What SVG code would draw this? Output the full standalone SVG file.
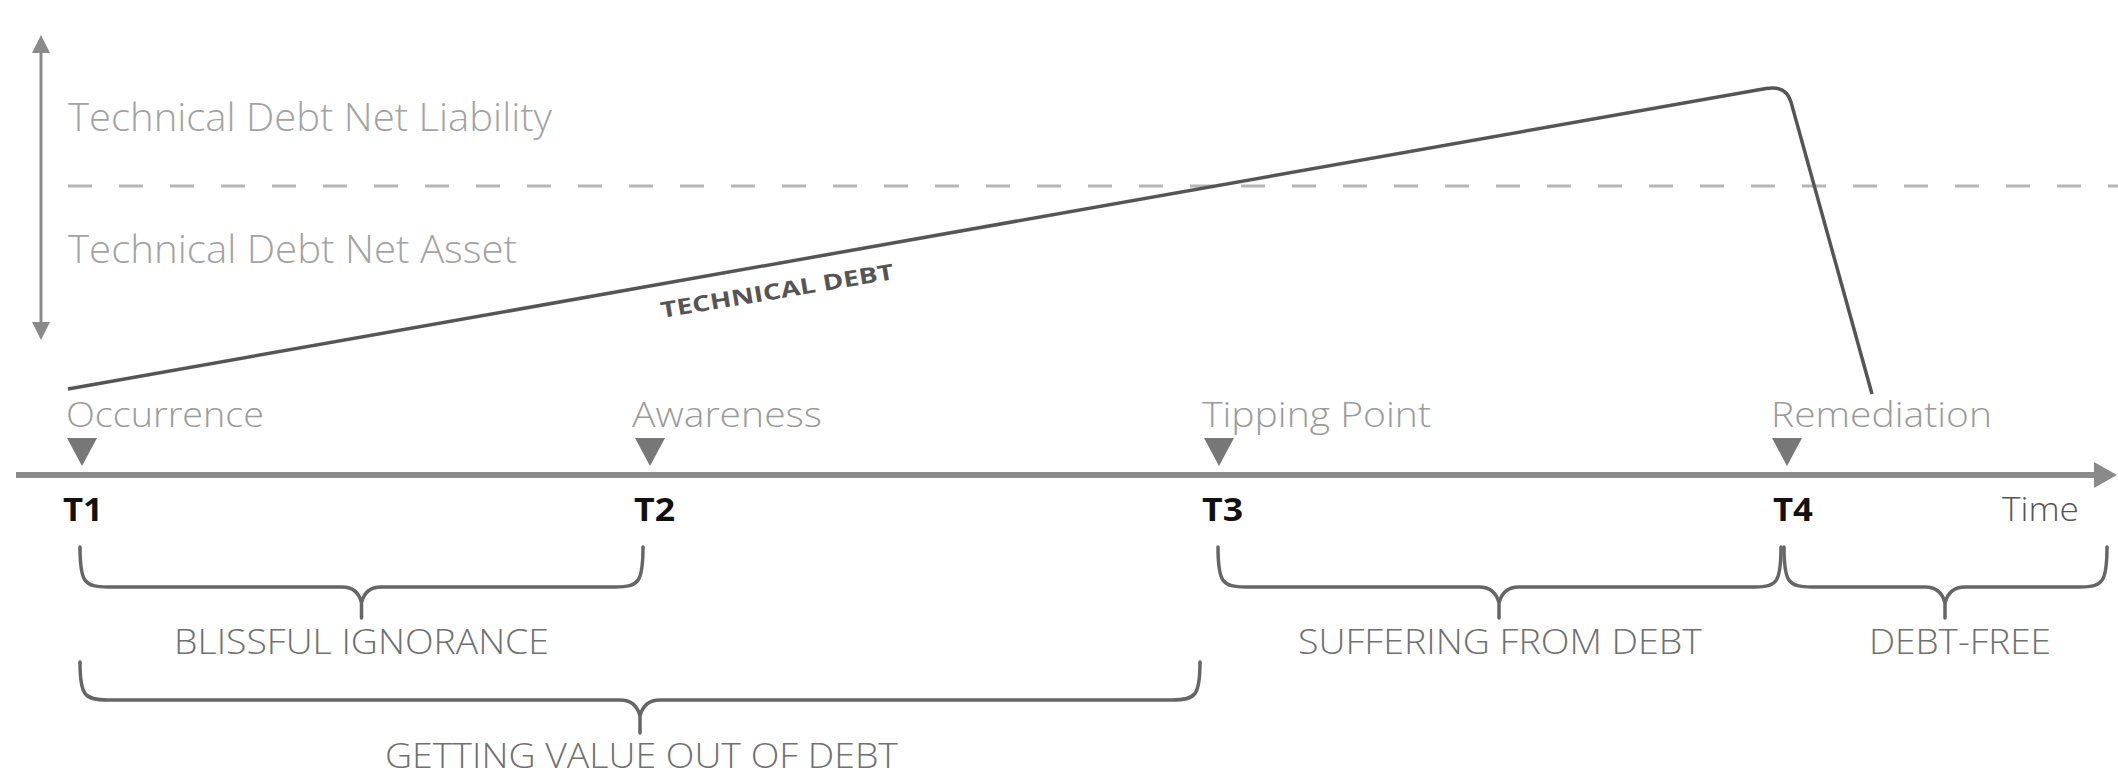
<svg xmlns="http://www.w3.org/2000/svg" width="2118" height="775" viewBox="0 0 2118 775">
<defs>
<style>
.lbl{font-family:"Open Sans","Liberation Sans",sans-serif;font-weight:300;}
.axis-lbl{font-size:38px;fill:#a3a3a3;}
.ev{font-size:35px;fill:#9b9b9b;}
.tk{font-family:"Open Sans","Liberation Sans",sans-serif;font-weight:700;font-size:33px;fill:#111;}
.br{font-size:34px;fill:#707070;}
.brace{fill:none;stroke:#666;stroke-width:3.5;stroke-linejoin:round;stroke-linecap:round;}
.tri{fill:#777;}
</style>
<marker id="ahv" viewBox="0 0 18 18" refX="9" refY="9" markerWidth="18" markerHeight="18" markerUnits="userSpaceOnUse" orient="auto-start-reverse">
<path d="M0,0 L18,9 L0,18 z" fill="#8a8a8a"/>
</marker>
</defs>
<rect width="2118" height="775" fill="#fff"/>

<g id="value-axis">
<line x1="41" y1="44" x2="41" y2="331" stroke="#8a8a8a" stroke-width="3" marker-start="url(#ahv)" marker-end="url(#ahv)"/>
<text class="lbl axis-lbl" x="68" y="131" textLength="484" lengthAdjust="spacingAndGlyphs">Technical Debt Net Liability</text>
<text class="lbl axis-lbl" x="68" y="263" textLength="449" lengthAdjust="spacingAndGlyphs">Technical Debt Net Asset</text>
</g>

<g id="threshold">
<line x1="68" y1="186" x2="2118" y2="186" stroke="#b5b5b5" stroke-width="3" stroke-dasharray="24 27"/>
</g>

<g id="technical-debt">
<path d="M68,389 L1766,88.5 Q1786,85 1791,102 L1872,394" fill="none" stroke="#555" stroke-width="3.5" stroke-linejoin="round"/>
<text x="662" y="318" transform="rotate(-9.5 662 318)" font-family="'Open Sans','Liberation Sans',sans-serif" font-weight="700" font-size="22" fill="#555" textLength="236" lengthAdjust="spacingAndGlyphs">TECHNICAL DEBT</text>
</g>

<g id="connectors">
<line x1="16" y1="475" x2="2096" y2="475" stroke="#8a8a8a" stroke-width="6"/>
<path d="M2094,462 L2117,475 L2094,488 z" fill="#8a8a8a"/>
<path class="brace" d="M80,547 C80,582 84,587 108,587 L342,587 Q358,587 361.5,603 L361.5,618 L361.5,603 Q365,587 381,587 L615,587 C639,587 643,582 643,547"/>
<path class="brace" d="M80,662 C80,695 84,700 108,700 L620,700 Q636,700 640,716 L640,733 L640,716 Q644,700 660,700 L1172,700 C1196,700 1200,695 1200,662"/>
<path class="brace" d="M1218,547 C1218,582 1222,587 1246,587 L1479,587 Q1495,587 1499,603 L1499,618 L1499,603 Q1503,587 1519,587 L1755,587 C1777,587 1781,582 1781,547"/>
<path class="brace" d="M1784,547 C1784,582 1788,587 1812,587 L1925,587 Q1941,587 1945,603 L1945,618 L1945,603 Q1949,587 1965,587 L2080,587 C2103,587 2107,582 2107,547"/>
</g>

<g id="t1">
<text class="lbl ev" x="66" y="427" textLength="198" lengthAdjust="spacingAndGlyphs">Occurrence</text>
<path class="tri" d="M67,438 L97,438 L82,466 z"/>
<text class="tk" x="63" y="521" textLength="40" lengthAdjust="spacingAndGlyphs">T1</text>
</g>
<g id="t2">
<text class="lbl ev" x="632" y="427" textLength="190" lengthAdjust="spacingAndGlyphs">Awareness</text>
<path class="tri" d="M635,438 L665,438 L650,466 z"/>
<text class="tk" x="634" y="521" textLength="41" lengthAdjust="spacingAndGlyphs">T2</text>
</g>
<g id="t3">
<text class="lbl ev" x="1202" y="427" textLength="229" lengthAdjust="spacingAndGlyphs">Tipping Point</text>
<path class="tri" d="M1204,438 L1234,438 L1219,466 z"/>
<text class="tk" x="1202" y="521" textLength="41" lengthAdjust="spacingAndGlyphs">T3</text>
</g>
<g id="t4">
<text class="lbl ev" x="1771" y="427" textLength="221" lengthAdjust="spacingAndGlyphs">Remediation</text>
<path class="tri" d="M1772,438 L1802,438 L1787,466 z"/>
<text class="tk" x="1773" y="521" textLength="40" lengthAdjust="spacingAndGlyphs">T4</text>
</g>
<g id="time">
<text class="lbl" x="2002" y="521" font-size="33" fill="#555" textLength="77" lengthAdjust="spacingAndGlyphs">Time</text>
</g>

<g id="blissful-ignorance">
<text class="lbl br" x="174" y="654" textLength="375" lengthAdjust="spacingAndGlyphs">BLISSFUL IGNORANCE</text>
</g>
<g id="getting-value">
<text class="lbl br" x="385" y="768" textLength="513" lengthAdjust="spacingAndGlyphs">GETTING VALUE OUT OF DEBT</text>
</g>
<g id="suffering">
<text class="lbl br" x="1298" y="654" textLength="404" lengthAdjust="spacingAndGlyphs">SUFFERING FROM DEBT</text>
</g>
<g id="debt-free">
<text class="lbl br" x="1869" y="654" textLength="182" lengthAdjust="spacingAndGlyphs">DEBT-FREE</text>
</g>
</svg>
